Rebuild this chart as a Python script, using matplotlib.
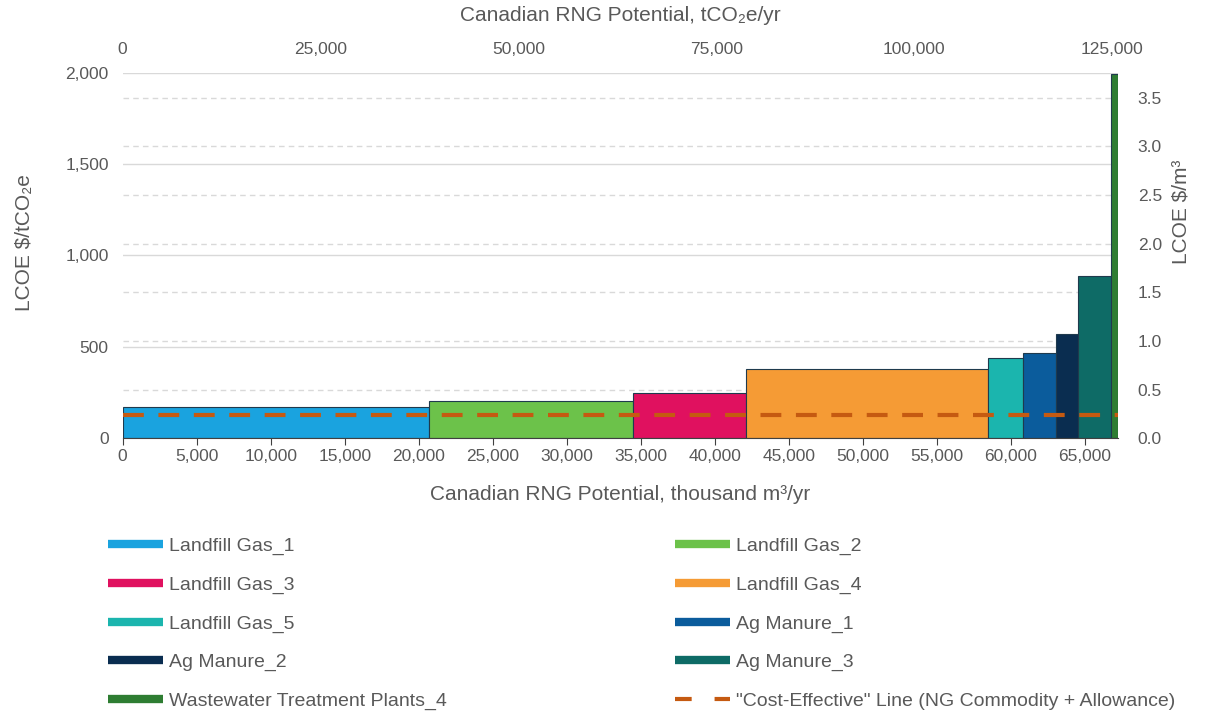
import numpy as np
import matplotlib
matplotlib.use('Agg')
import matplotlib.pyplot as plt
from matplotlib.lines import Line2D
from matplotlib.ticker import FuncFormatter

plt.rcParams['font.family'] = ['Liberation Sans', 'DejaVu Sans']

# supply curve segments (thousand m3/yr) and levelized cost ($/tCO2e)
names = ['Landfill Gas_1', 'Landfill Gas_2', 'Landfill Gas_3', 'Landfill Gas_4', 'Landfill Gas_5',
         'Ag Manure_1', 'Ag Manure_2', 'Ag Manure_3', 'Wastewater Treatment Plants_4']
potential = [20700, 13800, 7580, 16370, 2400, 2210, 1510, 2210, 470]
lcoe_t = [173, 205, 249, 379, 439, 466, 570, 887, 1990]
colors = ['#1aa3df', '#6cc24a', '#e0115f', '#f59b35', '#1bb5ae',
          '#0b5c9c', '#0a2d50', '#0e6b66', '#2e7d32']

cost_effective_t = 127          # $/tCO2e
t_per_kcm = 1.87                # tCO2e per thousand m3
usd_t_per_usd_m3 = 532          # $/tCO2e for 1 $/m3

top_ticks = [0, 25000, 50000, 75000, 100000, 125000]
right_ticks = [0.0, 0.5, 1.0, 1.5, 2.0, 2.5, 3.0, 3.5]

txt = '#595959'
fs = 12.5
fs_title = 15

fig = plt.figure(figsize=(12.11, 7.15), dpi=100)
ax = fig.add_axes([0.1013, 0.387, 0.8222, 0.5116])

left = np.concatenate([[0], np.cumsum(potential)[:-1]])
total = float(np.sum(potential))
ax.bar(left, lcoe_t, width=potential, align='edge', color=colors,
       edgecolor='#1f3a4d', linewidth=0.8, zorder=2)
ax.plot([0, total], [cost_effective_t] * 2, color='#c55a11', linewidth=3,
        dashes=(5, 3.5), zorder=3)

ax.set_xlim(0, total + 20)
ax.set_ylim(0, 2000)
ax.set_yticks([0, 500, 1000, 1500, 2000])
ax.set_xticks(np.arange(0, 65001, 5000))
comma = FuncFormatter(lambda v, p: '{:,.0f}'.format(v))
ax.xaxis.set_major_formatter(comma)
ax.yaxis.set_major_formatter(comma)
ax.grid(axis='y', color='#d9d9d9', linewidth=1, zorder=0)
for v in right_ticks[1:]:
    ax.axhline(v * usd_t_per_usd_m3, color='#d9d9d9', linewidth=1,
               linestyle=(0, (4, 3)), zorder=0)
ax.set_axisbelow(True)
for s in ['top', 'left', 'right']:
    ax.spines[s].set_visible(False)
ax.spines['bottom'].set_color('#404040')
ax.tick_params(axis='x', colors='#404040', labelcolor=txt, labelsize=fs, length=5, pad=3)
ax.tick_params(axis='y', length=0, labelcolor=txt, labelsize=fs, pad=10)
ax.set_xlabel('Canadian RNG Potential, thousand m³/yr', color=txt, fontsize=fs_title, labelpad=14.6)
ax.set_ylabel('LCOE $/tCO₂e', color=txt, fontsize=fs_title)
ax.yaxis.set_label_coords(-0.0886, 0.534)

top = ax.secondary_xaxis('top', functions=(lambda x: x * t_per_kcm, lambda x: x / t_per_kcm))
top.set_xticks(top_ticks)
top.xaxis.set_major_formatter(comma)
top.tick_params(length=0, labelcolor=txt, labelsize=fs, pad=11)
top.set_xlabel('Canadian RNG Potential, tCO₂e/yr', color=txt, fontsize=fs_title, labelpad=15.5)
for s in top.spines.values():
    s.set_visible(False)

right = ax.secondary_yaxis('right', functions=(lambda y: y / usd_t_per_usd_m3,
                                                lambda y: y * usd_t_per_usd_m3))
right.set_yticks(right_ticks)
right.yaxis.set_major_formatter(FuncFormatter(lambda v, p: '{:.1f}'.format(v)))
right.tick_params(length=0, labelcolor=txt, labelsize=fs, pad=14)
right.set_ylabel('LCOE $/m³', color=txt, fontsize=fs_title)
right.yaxis.set_label_coords(1.053, 0.619, transform=ax.transAxes)
for s in right.spines.values():
    s.set_visible(False)

handles = [Line2D([], [], color=c, linewidth=6, solid_capstyle='butt') for c in colors]
handles.append(Line2D([], [], color='#c55a11', linewidth=3, dashes=(4, 5.5)))
labels = names + ['"Cost-Effective" Line (NG Commodity + Allowance)']
leg_kw = dict(frameon=False, fontsize=14, labelcolor=txt, handlelength=2.83,
              handletextpad=0.31, labelspacing=1.07, loc='upper left')
fig.legend(handles[0::2], labels[0::2], bbox_to_anchor=(0.0747, 0.2727), **leg_kw)
fig.legend(handles[1::2], labels[1::2], bbox_to_anchor=(0.543, 0.2727), **leg_kw)

fig.savefig('out.png', dpi=100)
